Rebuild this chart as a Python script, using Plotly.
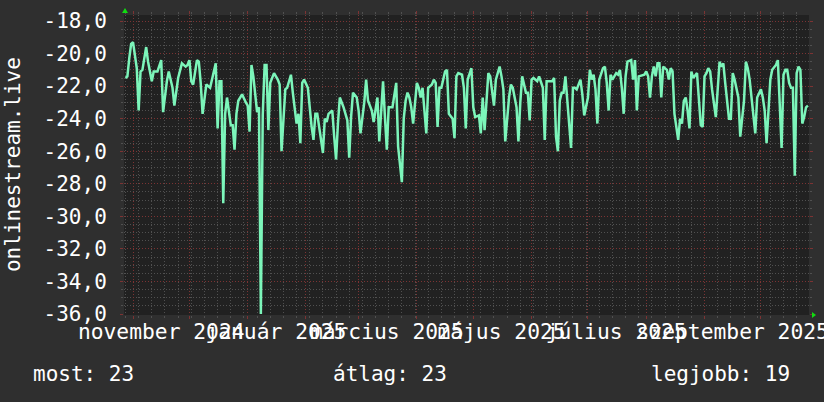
import pandas as pd
import plotly.graph_objects as go

# ---- data (daily rank of onlinestream.live, plotted negated) ----
start_day = "2024-11-01"
day_offsets = [
    -4, -3, -2, -1, 0, 1, 2, 3, 4, 5, 7, 8, 10, 11, 12, 13, 15, 16, 18, 19,
    21, 22, 24, 26, 28, 29, 30, 31, 32, 34, 35, 36, 37, 39, 41, 43, 44, 45, 46, 47,
    48, 49, 50, 52, 53, 54, 55, 56, 58, 60, 61, 62, 63, 64, 66, 67, 68, 69, 70, 71,
    72, 73, 75, 77, 78, 79, 80, 81, 82, 84, 85, 87, 88, 89, 90, 91, 93, 94, 95, 96,
    97, 98, 99, 101, 102, 103, 104, 106, 107, 108, 109, 110, 112, 114, 115, 116, 117, 119, 120, 121,
    123, 124, 125, 127, 128, 129, 130, 131, 133, 134, 135, 136, 138, 140, 141, 143, 144, 145, 146, 147,
    148, 149, 151, 152, 153, 154, 156, 157, 159, 160, 161, 162, 163, 164, 166, 167, 168, 170, 171, 172,
    173, 175, 176, 177, 178, 180, 181, 182, 184, 185, 186, 187, 188, 189, 190, 192, 193, 194, 195, 196,
    197, 198, 200, 201, 202, 204, 205, 206, 207, 209, 210, 211, 212, 213, 215, 216, 218, 219, 220, 221,
    223, 224, 225, 226, 227, 228, 229, 230, 231, 233, 234, 235, 236, 238, 239, 240, 242, 243, 244, 245,
    246, 247, 248, 250, 251, 252, 253, 254, 255, 257, 258, 259, 260, 261, 262, 263, 265, 266, 267, 268,
    269, 271, 272, 273, 274, 275, 276, 277, 278, 279, 280, 281, 282, 284, 285, 286, 287, 288, 289, 290,
    291, 292, 293, 294, 295, 296, 297, 298, 300, 301, 302, 303, 304, 305, 306, 307, 308, 310, 311, 312,
    313, 314, 315, 317, 318, 319, 320, 321, 322, 323, 325, 326, 327, 328, 329, 330, 331, 332, 334, 335,
    336, 337, 338, 339, 340, 342, 343, 344, 345, 346, 347, 348, 349, 350, 351, 352, 353, 354, 355, 356,
    357, 358, 359,
]
rank_values = [
    -21.5, -21.4, -20.3, -19.4, -19.3, -20.1, -20.9, -23.5, -21.1, -21.0, -19.6, -20.5, -21.7, -21.1, -21.1, -21.1, -20.4, -23.6, -21.7, -21.1,
    -22.1, -23.2, -21.5, -20.6, -20.8, -20.7, -20.4, -21.7, -21.9, -20.4, -20.5, -21.8, -23.7, -21.9, -22.1, -21.0, -20.6, -24.6, -21.7, -21.7,
    -29.2, -23.7, -22.7, -24.4, -24.4, -25.9, -23.7, -22.9, -22.5, -23.0, -23.2, -24.8, -20.7, -21.4, -23.6, -23.3, -36.0, -23.8, -20.7, -20.7,
    -24.7, -21.8, -21.2, -21.6, -21.9, -26.0, -23.7, -22.2, -22.1, -21.3, -22.4, -24.3, -23.7, -25.5, -21.8, -21.6, -22.1, -23.5, -24.5, -25.3,
    -23.7, -23.7, -24.5, -26.1, -24.0, -24.2, -23.7, -23.5, -25.1, -26.5, -24.3, -22.7, -23.3, -24.1, -26.4, -23.9, -22.4, -22.7, -23.5, -24.9,
    -23.0, -21.6, -22.9, -23.5, -24.2, -23.5, -22.7, -25.4, -21.7, -23.9, -25.9, -23.3, -23.3, -21.8, -25.7, -27.9, -24.0, -22.9, -22.4, -22.7,
    -23.3, -24.3, -21.8, -22.1, -22.7, -22.1, -24.9, -22.1, -21.9, -21.6, -21.8, -24.5, -22.1, -22.1, -21.1, -21.0, -23.7, -24.0, -25.2, -21.4,
    -21.2, -21.3, -22.1, -24.6, -21.6, -20.9, -23.3, -23.9, -23.8, -24.9, -22.7, -24.7, -22.9, -21.2, -21.4, -23.2, -21.6, -21.1, -20.8, -21.4,
    -22.2, -25.4, -22.7, -21.9, -22.1, -23.3, -25.4, -23.0, -21.4, -22.4, -22.4, -24.1, -21.6, -21.5, -21.7, -21.4, -22.1, -25.3, -21.7, -21.7,
    -21.7, -21.5, -25.1, -26.0, -22.9, -22.4, -22.4, -21.4, -22.7, -25.8, -22.1, -22.1, -22.2, -21.6, -22.5, -23.8, -22.7, -21.0, -21.6, -21.3,
    -22.2, -24.3, -21.6, -20.9, -20.8, -21.8, -23.5, -21.3, -21.6, -21.2, -21.3, -21.0, -22.1, -23.7, -21.4, -20.5, -20.4, -21.6, -20.4, -23.5,
    -21.4, -21.3, -21.3, -21.1, -21.4, -22.7, -21.4, -20.8, -21.4, -20.6, -20.6, -22.7, -20.8, -21.0, -21.6, -20.9, -21.1, -23.7, -24.5, -25.3,
    -24.0, -24.3, -22.9, -22.7, -23.5, -24.6, -21.1, -21.5, -21.2, -22.9, -24.4, -24.5, -21.4, -21.2, -20.9, -21.1, -22.2, -23.9, -21.8, -20.5,
    -20.8, -20.6, -21.8, -24.0, -24.0, -21.2, -21.6, -22.1, -22.7, -25.1, -22.9, -20.5, -20.9, -21.6, -22.7, -23.7, -24.9, -22.7, -22.2, -22.7,
    -23.5, -25.5, -23.3, -21.6, -21.0, -20.7, -20.4, -22.9, -25.8, -21.3, -21.0, -21.0, -21.8, -22.1, -22.1, -27.5, -21.2, -20.8, -21.0, -24.3,
    -23.9, -23.3, -23.2,
]

x_label_dates = ["2024-11-16", "2025-01-16", "2025-03-16", "2025-05-16", "2025-07-16", "2025-09-16"]
x_labels = ["november 2024", "január 2025", "március 2025", "május 2025", "július 2025", "szeptember 2025"]
y_tick_vals = [-36, -34, -32, -30, -28, -26, -24, -22, -20, -18]
y_tick_labels = ["-36,0", "-34,0", "-32,0", "-30,0", "-28,0", "-26,0", "-24,0", "-22,0", "-20,0", "-18,0"]
axis_title = "onlinestream.live"
legend_texts = ["most: 23", "átlag: 23", "legjobb: 19"]

dates = pd.Timestamp(start_day) + pd.to_timedelta(day_offsets, unit="D")

FONT = "DejaVu Sans Mono"
TXT = "#ffffff"
BG = "#2f2f2f"
PLOT_BG = "#212121"
MAJOR = "#7c3333"
MINOR = "#505050"
DOT = "1px,2px"
X_RANGE = ["2024-10-27 04:48", "2025-10-26 13:40"]
Y_RANGE = [-36.06, -17.63]

fig = go.Figure()
fig.add_trace(go.Scatter(x=dates, y=rank_values, mode="lines",
                         line=dict(color="#7cf5ba", width=2.5),
                         showlegend=False, hoverinfo="skip"))
fig.add_trace(go.Scatter(x=[], y=[], xaxis="x2", showlegend=False, hoverinfo="skip"))

fig.update_layout(
    template="none",
    width=824, height=402,
    margin=dict(l=124, r=15, t=15, b=87, autoexpand=False),
    paper_bgcolor=BG, plot_bgcolor=PLOT_BG,
    font=dict(family=FONT, size=21, color=TXT),
    xaxis=dict(
        type="date", range=X_RANGE, tickmode="linear", tick0="2024-11-01", dtick="M1",
        showticklabels=False, showgrid=True, gridcolor=MAJOR, griddash=DOT, gridwidth=1,
        ticks="outside", ticklen=3, tickcolor=MAJOR, mirror="ticks", automargin=False,
        zeroline=False, showline=False,
        minor=dict(tickmode="linear", tick0="2024-10-28", dtick=7 * 86400000,
                   showgrid=True, gridcolor=MINOR, griddash=DOT, gridwidth=1,
                   ticks="outside", ticklen=2, tickcolor=MINOR),
    ),
    xaxis2=dict(
        type="date", range=X_RANGE, overlaying="x", anchor="y", side="bottom",
        tickmode="array", tickvals=x_label_dates, ticktext=x_labels, automargin=False,
        tickangle=0, ticklabeloverflow="allow", showgrid=False, ticks="",
        zeroline=False, showline=False, ticklabelstandoff=2,
        tickfont=dict(family=FONT, size=21.3, color=TXT),
    ),
    yaxis=dict(
        range=Y_RANGE, tickmode="array", tickvals=y_tick_vals, ticktext=y_tick_labels,
        showgrid=True, gridcolor=MAJOR, griddash=DOT, gridwidth=1, automargin=False,
        ticks="outside", ticklen=3, tickcolor=MAJOR, mirror="ticks",
        zeroline=False, showline=False, ticklabelstandoff=9,
        tickfont=dict(family=FONT, size=21, color=TXT),
        minor=dict(tickmode="linear", tick0=-36, dtick=0.5,
                   showgrid=True, gridcolor=MINOR, griddash=DOT, gridwidth=1,
                   ticks="outside", ticklen=2, tickcolor=MINOR),
    ),
)

# axis title (rotated)
fig.add_annotation(text=axis_title, xref="paper", yref="paper", x=-0.162, y=0.5,
                   textangle=-90, showarrow=False, xanchor="center", yanchor="middle",
                   font=dict(family=FONT, size=21, color=TXT))

# GPRINT-style summary line
for txt, xp in zip(legend_texts, [-0.1358, 0.3022, 0.7664]):
    fig.add_annotation(text=txt, xref="paper", yref="paper", x=xp, y=-0.1967,
                       showarrow=False, xanchor="left", yanchor="middle",
                       font=dict(family=FONT, size=21, color=TXT))

# axis arrows
fig.add_shape(type="path", xref="paper", yref="paper", xsizemode="pixel", ysizemode="pixel",
              xanchor=0, yanchor=1, path="M -2,2 L 4,2 L 1,7 Z",
              fillcolor="#11dd11", line=dict(width=0))
fig.add_shape(type="path", xref="paper", yref="paper", xsizemode="pixel", ysizemode="pixel",
              xanchor=1, yanchor=0, path="M 3,3 L 3,-3 L 7,0 Z",
              fillcolor="#11dd11", line=dict(width=0))

fig.write_html("out.html",
               config={"displayModeBar": False, "staticPlot": True},
               post_script="document.body.style.margin='0';"
                           "document.body.style.background='#2f2f2f';")
